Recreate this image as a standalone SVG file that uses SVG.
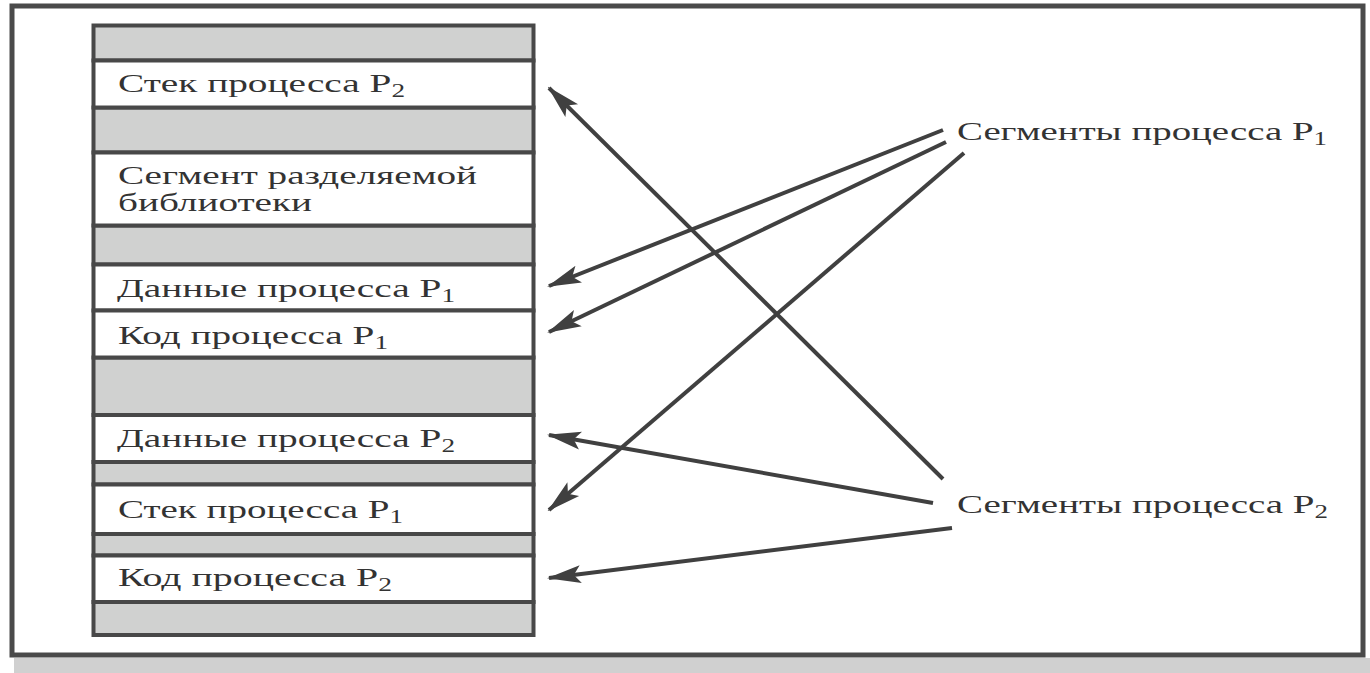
<svg xmlns="http://www.w3.org/2000/svg" width="1370" height="673" viewBox="0 0 1370 673">
<defs>
<style>
.gray{fill:#d0d1d0;stroke:#484848;stroke-width:4}
.white{fill:#ffffff;stroke:#484848;stroke-width:4}
.lbl{font-family:"Liberation Serif","Times New Roman",serif;font-size:26px;fill:#333333}
.sub{font-size:18px}
.conn{stroke:#404040;stroke-width:4;fill:none;marker-end:url(#ah)}
</style>
<marker id="ah" markerUnits="userSpaceOnUse" viewBox="0 0 34 20" refX="32" refY="10" markerWidth="34" markerHeight="20" orient="auto">
<path d="M0,1 L34,10 L0,19 L7,10 Z" fill="#404040"/>
</marker>
</defs>
<rect x="14" y="658" width="1356" height="15" fill="#d0d0d0"/>
<rect x="12" y="6" width="1351" height="649" fill="#ffffff" stroke="#4a4a4a" stroke-width="5"/>
<g id="column">
<rect class="gray" x="93.5" y="25.5" width="440" height="35"/>
<rect class="gray" x="93.5" y="107.5" width="440" height="45"/>
<rect class="gray" x="93.5" y="225.5" width="440" height="39"/>
<rect class="gray" x="93.5" y="357.5" width="440" height="57.5"/>
<rect class="gray" x="93.5" y="462" width="440" height="22.5"/>
<rect class="gray" x="93.5" y="534" width="440" height="21.5"/>
<rect class="gray" x="93.5" y="602" width="440" height="33"/>
</g>
<g id="stack-p2"><rect class="white" x="93.5" y="60.5" width="440" height="47"/>
<text class="lbl" x="118" y="92" textLength="287" lengthAdjust="spacingAndGlyphs">Стек процесса P<tspan class="sub" dy="5">2</tspan></text></g>
<g id="shared-lib"><rect class="white" x="93.5" y="152.5" width="440" height="73"/>
<text class="lbl" x="118" y="184" textLength="359" lengthAdjust="spacingAndGlyphs">Сегмент разделяемой</text>
<text class="lbl" x="118" y="211" textLength="194" lengthAdjust="spacingAndGlyphs">библиотеки</text></g>
<g id="data-p1"><rect class="white" x="93.5" y="264.5" width="440" height="46"/>
<text class="lbl" x="117" y="297" textLength="338" lengthAdjust="spacingAndGlyphs">Данные процесса P<tspan class="sub" dy="5">1</tspan></text></g>
<g id="code-p1"><rect class="white" x="93.5" y="310.5" width="440" height="47"/>
<text class="lbl" x="118" y="344" textLength="270" lengthAdjust="spacingAndGlyphs">Код процесса P<tspan class="sub" dy="5">1</tspan></text></g>
<g id="data-p2"><rect class="white" x="93.5" y="415" width="440" height="47"/>
<text class="lbl" x="117" y="447" textLength="338" lengthAdjust="spacingAndGlyphs">Данные процесса P<tspan class="sub" dy="5">2</tspan></text></g>
<g id="stack-p1"><rect class="white" x="93.5" y="484.5" width="440" height="49.5"/>
<text class="lbl" x="118" y="518" textLength="285" lengthAdjust="spacingAndGlyphs">Стек процесса P<tspan class="sub" dy="5">1</tspan></text></g>
<g id="code-p2"><rect class="white" x="93.5" y="555.5" width="440" height="46.5"/>
<text class="lbl" x="118" y="586" textLength="274" lengthAdjust="spacingAndGlyphs">Код процесса P<tspan class="sub" dy="5">2</tspan></text></g>
<g id="seg-p1"><text class="lbl" x="957" y="140" textLength="370" lengthAdjust="spacingAndGlyphs">Сегменты процесса P<tspan class="sub" dy="5">1</tspan></text></g>
<g id="seg-p2"><text class="lbl" x="957" y="513" textLength="371" lengthAdjust="spacingAndGlyphs">Сегменты процесса P<tspan class="sub" dy="5">2</tspan></text></g>
<g id="connectors">
<line class="conn" x1="943" y1="130" x2="549" y2="286"/>
<line class="conn" x1="946" y1="142" x2="549" y2="332"/>
<line class="conn" x1="964" y1="153" x2="549" y2="510"/>
<line class="conn" x1="943" y1="479" x2="549" y2="88"/>
<line class="conn" x1="933" y1="503" x2="549" y2="435"/>
<line class="conn" x1="952" y1="528" x2="549" y2="578"/>
</g>
</svg>
